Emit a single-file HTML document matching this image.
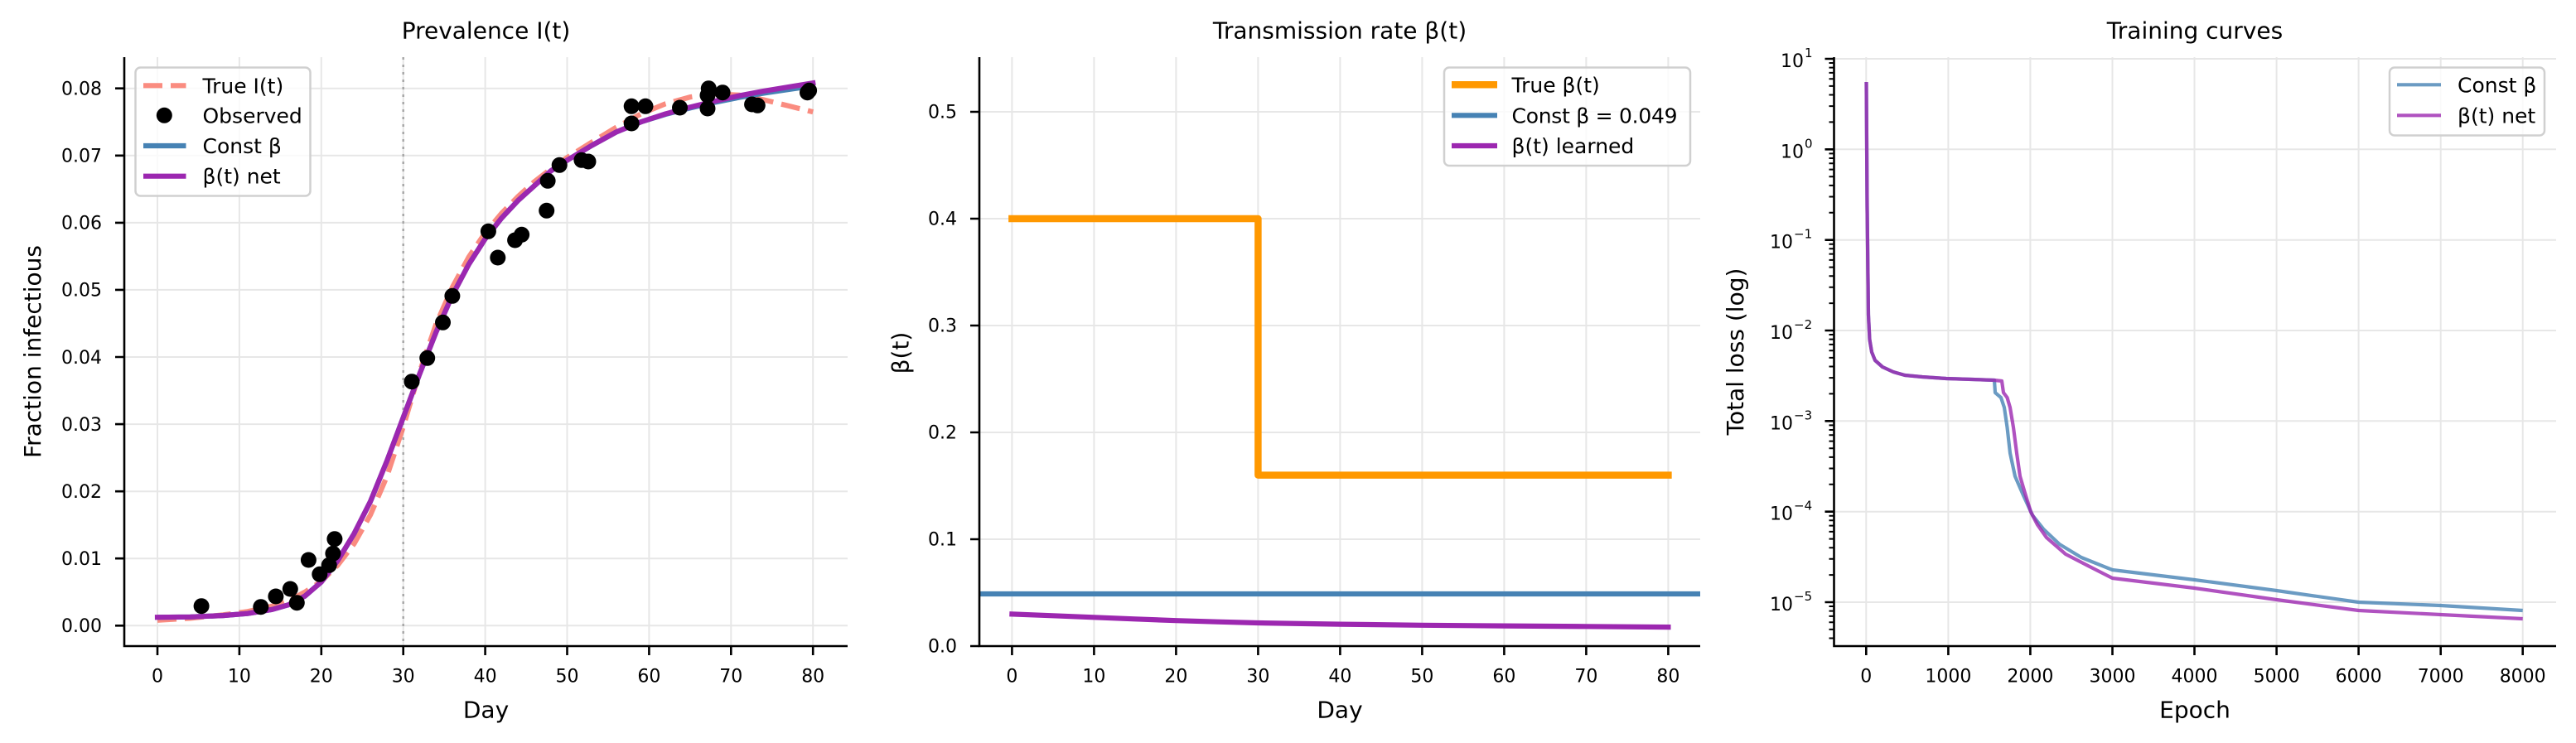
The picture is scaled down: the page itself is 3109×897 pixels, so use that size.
<!DOCTYPE html>
<html><head><meta charset="utf-8"><style>
html,body{margin:0;padding:0;background:#fff;}
svg{display:block;}
text{font-family:"DejaVu Sans","Liberation Sans",sans-serif;fill:#000;}
.t{font-size:28px;}
.tk{font-size:22px;}
.lg{font-size:25px;}
.sp{font-size:15px;}
</style></head><body>
<svg width="3109" height="897" viewBox="0 0 3109 897" xmlns="http://www.w3.org/2000/svg">
<rect width="3109" height="897" fill="#fff"/>

<!-- ============ PANEL 1 ============ -->
<g stroke="#e7e7e7" stroke-width="2" fill="none">
<path d="M190,69V780M288.9,69V780M387.8,69V780M486.7,69V780M585.6,69V780M684.5,69V780M783.4,69V780M882.3,69V780M981.2,69V780"/>
<path d="M150,755.3H1023M150,674.2H1023M150,593.2H1023M150,512.1H1023M150,431H1023M150,349.9H1023M150,268.9H1023M150,187.8H1023M150,106.7H1023"/>
</g>
<line x1="486.7" y1="69" x2="486.7" y2="780" stroke="#a8a8a8" stroke-width="2.5" stroke-dasharray="3 6"/>
<polyline fill="none" stroke="#fa8072" stroke-opacity="0.9" stroke-width="6.2" stroke-dasharray="23 10" points="190,748.8 229.6,746.4 269.1,742.3 298.8,738.3 328.5,731.8 348.2,725.3 368,714.8 387.8,701.8 407.6,682.3 427.4,656.4 447.1,621.5 466.9,575.3 486.7,515.3 506.5,448.8 526.3,391.3 546,346.7 565.8,310.2 585.6,281 605.4,257.5 625.2,237.2 644.9,219.4 664.7,204 684.5,190.2 714.2,171.6 743.8,153.7 773.5,137.5 803.2,125.3 832.9,117.2 862.5,113.2 892.2,114.8 921.9,120.5 951.5,127.8 981.2,135.1"/>
<polyline fill="none" stroke="#4682b4" stroke-width="6.2" stroke-linejoin="round" points="190,745.2 229.6,744.8 269.1,743.1 298.8,740.7 328.5,735.8 348.2,730.2 368,719.6 387.8,702.6 407.6,676.7 427.4,644.2 447.1,605.3 466.9,556.7 486.7,504 506.5,451.3 526.3,401 546,356.4 565.8,319.1 585.6,288.3 605.4,263.2 625.2,242.1 644.9,224.3 664.7,206.4 684.5,193.5 714.2,175.6 743.8,159.4 773.5,147.2 803.2,138 832.9,130.4 862.5,123.6 892.2,117.6 921.9,112.4 951.5,108.1 981.2,103.7"/>
<polyline fill="none" stroke="#9c27b0" stroke-width="6.2" stroke-linejoin="round" stroke-linecap="square" points="190,745.2 229.6,744.8 269.1,743.1 298.8,740.7 328.5,735.8 348.2,730.2 368,719.6 387.8,702.6 407.6,676.7 427.4,644.2 447.1,605.3 466.9,556.7 486.7,504 506.5,451.3 526.3,401 546,356.4 565.8,319.1 585.6,288.3 605.4,263.2 625.2,242.1 644.9,224.3 664.7,206.4 684.5,193.5 714.2,175.6 743.8,159.4 773.5,147.2 803.2,137.5 832.9,129.4 862.5,122.1 892.2,115.6 921.9,109.9 951.5,105.1 981.2,100.2"/>
<g fill="#000">
<circle cx="243.1" cy="731.7" r="9.5"/><circle cx="314.8" cy="732.7" r="9.5"/><circle cx="332.9" cy="720" r="9.5"/><circle cx="350.3" cy="711" r="9.5"/><circle cx="358.3" cy="727.7" r="9.5"/><circle cx="372.4" cy="676" r="9.5"/><circle cx="385.8" cy="693.3" r="9.5"/><circle cx="397.2" cy="682.3" r="9.5"/><circle cx="401.9" cy="668.3" r="9.5"/><circle cx="403.9" cy="650.7" r="9.5"/><circle cx="497" cy="460.7" r="9.5"/>
<circle cx="515.7" cy="432.3" r="9.5"/><circle cx="534.5" cy="389.3" r="9.5"/><circle cx="545.9" cy="357.3" r="9.5"/><circle cx="589.4" cy="279.3" r="9.5"/><circle cx="600.8" cy="311" r="9.5"/><circle cx="621.6" cy="290" r="9.5"/><circle cx="629.6" cy="283.3" r="9.5"/><circle cx="659.7" cy="254.3" r="9.5"/><circle cx="661.1" cy="218.3" r="9.5"/><circle cx="675.2" cy="199.3" r="9.5"/><circle cx="701.9" cy="193.3" r="9.5"/><circle cx="710" cy="195" r="9.5"/><circle cx="762.2" cy="149" r="9.5"/><circle cx="762.2" cy="128.3" r="9.5"/><circle cx="779" cy="128.3" r="9.5"/><circle cx="820.5" cy="130" r="9.5"/><circle cx="854" cy="131" r="9.5"/><circle cx="855.3" cy="106.7" r="9.5"/><circle cx="854" cy="115" r="9.5"/><circle cx="872.1" cy="111.7" r="9.5"/><circle cx="907.6" cy="126" r="9.5"/><circle cx="914.3" cy="127.3" r="9.5"/><circle cx="974.5" cy="111.7" r="9.5"/><circle cx="976.6" cy="109.3" r="9.5"/>
</g>
<!-- spines & ticks -->
<g stroke="#000" stroke-width="2.6" fill="none">
<path d="M150,69V781.3M148.7,780H1023"/>
<path d="M190,780V791M288.9,780V791M387.8,780V791M486.7,780V791M585.6,780V791M684.5,780V791M783.4,780V791M882.3,780V791M981.2,780V791"/>
<path d="M139,755.3H150M139,674.2H150M139,593.2H150M139,512.1H150M139,431H150M139,349.9H150M139,268.9H150M139,187.8H150M139,106.7H150"/>
</g>
<g class="tk" text-anchor="middle">
<text x="190" y="823.5">0</text><text x="288.9" y="823.5">10</text><text x="387.8" y="823.5">20</text><text x="486.7" y="823.5">30</text><text x="585.6" y="823.5">40</text><text x="684.5" y="823.5">50</text><text x="783.4" y="823.5">60</text><text x="882.3" y="823.5">70</text><text x="981.2" y="823.5">80</text>
</g>
<g class="tk" text-anchor="end">
<text x="123" y="763">0.00</text><text x="123" y="682">0.01</text><text x="123" y="601">0.02</text><text x="123" y="520">0.03</text><text x="123" y="439">0.04</text><text x="123" y="357.5">0.05</text><text x="123" y="276.5">0.06</text><text x="123" y="195.5">0.07</text><text x="123" y="114.5">0.08</text>
</g>
<text class="t" x="586.5" y="46.7" text-anchor="middle">Prevalence I(t)</text>
<text class="t" x="586.5" y="866.5" text-anchor="middle">Day</text>
<text class="t" transform="translate(49,424.5) rotate(-90)" text-anchor="middle">Fraction infectious</text>
<!-- legend 1 -->
<rect x="163.5" y="81.5" width="211" height="155" rx="6" fill="#fff" fill-opacity="0.8" stroke="#d0d0d0" stroke-width="2.5"/>
<line x1="173" y1="103.3" x2="224.5" y2="103.3" stroke="#fa8072" stroke-opacity="0.9" stroke-width="6.2" stroke-dasharray="23 10"/>
<circle cx="198.3" cy="139.3" r="9.5" fill="#000"/>
<line x1="173" y1="176" x2="224.5" y2="176" stroke="#4682b4" stroke-width="6.2"/>
<line x1="173" y1="212.7" x2="224.5" y2="212.7" stroke="#9c27b0" stroke-width="6.2"/>
<g class="lg"><text x="244.5" y="112.3">True I(t)</text><text x="244.5" y="148.3">Observed</text><text x="244.5" y="185">Const β</text><text x="244.5" y="221.7">β(t) net</text></g>

<!-- ============ PANEL 2 ============ -->
<g stroke="#e7e7e7" stroke-width="2" fill="none">
<path d="M1221.4,69V780M1320.4,69V780M1419.4,69V780M1518.4,69V780M1617.4,69V780M1716.4,69V780M1815.4,69V780M1914.4,69V780M2013.4,69V780"/>
<path d="M1182,651H2052M1182,522H2052M1182,393H2052M1182,264H2052M1182,135H2052"/>
</g>
<polyline fill="none" stroke="#ff9800" stroke-width="8.5" stroke-linejoin="round" stroke-linecap="square" points="1221.4,264 1518.4,264 1518.4,573.6 2013.4,573.6"/>
<line x1="1182" y1="717" x2="2052" y2="717" stroke="#4682b4" stroke-width="6.2"/>
<polyline fill="none" stroke="#9c27b0" stroke-width="6.2" stroke-linejoin="round" stroke-linecap="square" points="1221.4,741.4 1270.9,743.3 1320.4,745.3 1369.9,747.3 1419.4,749.2 1468.9,750.7 1518.4,752 1617.4,753.6 1716.4,754.8 1815.4,755.6 1914.4,756.3 2013.4,757.1"/>
<g stroke="#000" stroke-width="2.6" fill="none">
<path d="M1182,69V781.3M1180.7,780H2052"/>
<path d="M1221.4,780V791M1320.4,780V791M1419.4,780V791M1518.4,780V791M1617.4,780V791M1716.4,780V791M1815.4,780V791M1914.4,780V791M2013.4,780V791"/>
<path d="M1171,780H1182M1171,651H1182M1171,522H1182M1171,393H1182M1171,264H1182M1171,135H1182"/>
</g>
<g class="tk" text-anchor="middle">
<text x="1221.4" y="823.5">0</text><text x="1320.4" y="823.5">10</text><text x="1419.4" y="823.5">20</text><text x="1518.4" y="823.5">30</text><text x="1617.4" y="823.5">40</text><text x="1716.4" y="823.5">50</text><text x="1815.4" y="823.5">60</text><text x="1914.4" y="823.5">70</text><text x="2013.4" y="823.5">80</text>
</g>
<g class="tk" text-anchor="end">
<text x="1155" y="787.5">0.0</text><text x="1155" y="658.5">0.1</text><text x="1155" y="529.5">0.2</text><text x="1155" y="400.5">0.3</text><text x="1155" y="271.5">0.4</text><text x="1155" y="142.5">0.5</text>
</g>
<text class="t" x="1617" y="46.7" text-anchor="middle">Transmission rate β(t)</text>
<text class="t" x="1617" y="866.5" text-anchor="middle">Day</text>
<text class="t" transform="translate(1096.5,426) rotate(-90)" text-anchor="middle">β(t)</text>
<!-- legend 2 -->
<rect x="1743" y="81.5" width="297" height="118.5" rx="6" fill="#fff" fill-opacity="0.8" stroke="#d0d0d0" stroke-width="2.5"/>
<line x1="1752" y1="102.3" x2="1807" y2="102.3" stroke="#ff9800" stroke-width="8.5"/>
<line x1="1752" y1="139.3" x2="1807" y2="139.3" stroke="#4682b4" stroke-width="6.2"/>
<line x1="1752" y1="176" x2="1807" y2="176" stroke="#9c27b0" stroke-width="6.2"/>
<g class="lg"><text x="1824.5" y="111.3">True β(t)</text><text x="1824.5" y="148.3" textLength="200" lengthAdjust="spacing">Const β = 0.049</text><text x="1824.5" y="185">β(t) learned</text></g>

<!-- ============ PANEL 3 ============ -->
<g stroke="#e7e7e7" stroke-width="2" fill="none">
<path d="M2252.3,69V780M2351.4,69V780M2450.4,69V780M2549.5,69V780M2648.5,69V780M2747.6,69V780M2846.6,69V780M2945.7,69V780M3044.7,69V780"/>
<path d="M2213.5,71H3085M2213.5,180.3H3085M2213.5,289.7H3085M2213.5,399H3085M2213.5,508.3H3085M2213.5,617.7H3085M2213.5,727H3085"/>
</g>
<polyline fill="none" stroke="#4682b4" stroke-opacity="0.8" stroke-width="4.2" stroke-linejoin="round" points="2252.5,99 2253.5,250 2255,380 2256.5,410 2259,425 2263,435 2272,443 2285,449 2299,453 2320,455 2349,457 2380,458 2407,459 2408,474 2415,480 2419,492 2422.5,516 2426,547 2432,575 2442,598 2453,622 2466.5,639 2485.6,657 2512,673 2549.5,688 2648.5,700 2747.6,713 2846.6,727 2945.7,731 3044.7,737"/>
<polyline fill="none" stroke="#9c27b0" stroke-opacity="0.8" stroke-width="4.2" stroke-linejoin="round" points="2252.5,99 2253.5,250 2255,380 2256.5,410 2259,425 2263,435 2272,443 2285,449 2299,453 2320,455 2349,457 2380,458 2407,459 2416,460 2418,474 2422.5,480 2426,492 2430,516 2434,547 2438,575 2443.6,594 2451,618 2459,633.5 2470,649 2493,669 2520,683 2549.5,698 2648.5,710 2747.6,724 2846.6,737 2945.7,742 3044.7,747"/>
<g stroke="#000" fill="none">
<path stroke-width="2.6" d="M2213.5,69V781.3M2212.2,780H3085"/>
<path stroke-width="2.6" d="M2252.3,780V791M2351.4,780V791M2450.4,780V791M2549.5,780V791M2648.5,780V791M2747.6,780V791M2846.6,780V791M2945.7,780V791M3044.7,780V791"/>
<path stroke-width="2.6" d="M2202.5,71H2213.5M2202.5,180.3H2213.5M2202.5,289.7H2213.5M2202.5,399H2213.5M2202.5,508.3H2213.5M2202.5,617.7H2213.5M2202.5,727H2213.5"/>
<path stroke-width="2" d="M2207.5,770.5h6M2207.5,759.9h6M2207.5,751.2h6M2207.5,743.9h6M2207.5,737.6h6M2207.5,732h6M2207.5,694.1h6M2207.5,674.8h6M2207.5,661.2h6M2207.5,650.6h6M2207.5,641.9h6M2207.5,634.6h6M2207.5,628.3h6M2207.5,622.7h6M2207.5,584.8h6M2207.5,565.5h6M2207.5,551.9h6M2207.5,541.3h6M2207.5,532.6h6M2207.5,525.3h6M2207.5,519h6M2207.5,513.4h6M2207.5,475.4h6M2207.5,456.1h6M2207.5,442.5h6M2207.5,431.9h6M2207.5,423.2h6M2207.5,415.9h6M2207.5,409.6h6M2207.5,404h6M2207.5,366.1h6M2207.5,346.8h6M2207.5,333.2h6M2207.5,322.6h6M2207.5,313.9h6M2207.5,306.6h6M2207.5,300.3h6M2207.5,294.7h6M2207.5,256.8h6M2207.5,237.5h6M2207.5,223.9h6M2207.5,213.3h6M2207.5,204.6h6M2207.5,197.3h6M2207.5,191h6M2207.5,185.4h6M2207.5,147.4h6M2207.5,128.1h6M2207.5,114.5h6M2207.5,103.9h6M2207.5,95.2h6M2207.5,87.9h6M2207.5,81.6h6M2207.5,76h6"/>
</g>
<g class="tk" text-anchor="middle">
<text x="2252.3" y="823.5">0</text><text x="2351.4" y="823.5">1000</text><text x="2450.4" y="823.5">2000</text><text x="2549.5" y="823.5">3000</text><text x="2648.5" y="823.5">4000</text><text x="2747.6" y="823.5">5000</text><text x="2846.6" y="823.5">6000</text><text x="2945.7" y="823.5">7000</text><text x="3044.7" y="823.5">8000</text>
</g>
<g class="tk" text-anchor="end">
<text x="2177" y="81">10</text><text x="2177" y="190.3">10</text>
<text x="2164" y="299.7">10</text><text x="2164" y="409">10</text><text x="2164" y="518.3">10</text><text x="2164" y="627.7">10</text><text x="2164" y="737">10</text>
</g>
<g class="sp" text-anchor="start">
<text x="2178" y="69">1</text><text x="2178" y="178.3">0</text>
<text x="2165" y="287.7">−1</text><text x="2165" y="397">−2</text><text x="2165" y="506.3">−3</text><text x="2165" y="615.7">−4</text><text x="2165" y="725">−5</text>
</g>
<text class="t" x="2649" y="46.7" text-anchor="middle">Training curves</text>
<text class="t" x="2649" y="866.5" text-anchor="middle">Epoch</text>
<text class="t" transform="translate(2104,424.5) rotate(-90)" text-anchor="middle">Total loss (log)</text>
<!-- legend 3 -->
<rect x="2884" y="81.5" width="187" height="82" rx="6" fill="#fff" fill-opacity="0.8" stroke="#d0d0d0" stroke-width="2.5"/>
<line x1="2893" y1="102.3" x2="2946" y2="102.3" stroke="#4682b4" stroke-opacity="0.8" stroke-width="4.2"/>
<line x1="2893" y1="139.3" x2="2946" y2="139.3" stroke="#9c27b0" stroke-opacity="0.8" stroke-width="4.2"/>
<g class="lg"><text x="2966" y="111.3">Const β</text><text x="2966" y="148.3">β(t) net</text></g>
</svg>
</body></html>
